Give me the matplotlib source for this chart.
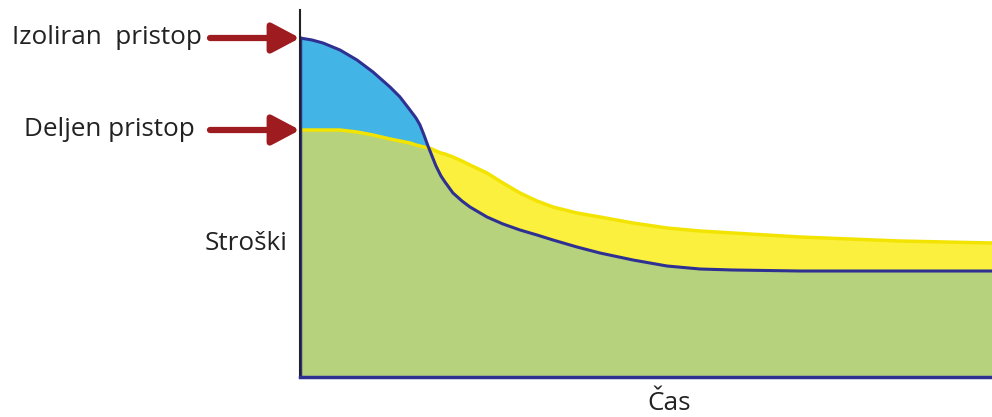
import numpy as np
import matplotlib
matplotlib.use('Agg')
import matplotlib.pyplot as plt

# values (time, cost)
time = [0, 12, 23, 40, 57, 73, 90, 100, 110, 116, 120, 124, 128, 132, 136, 141, 145, 153,
        162, 170, 187, 203, 220, 237, 253, 277, 300, 333, 367, 400, 433, 500, 600, 692]
isolated = [339, 337, 334, 327, 317, 305, 290, 280, 267, 259, 252, 242, 231, 221, 211,
            201, 195, 184, 176, 170, 160, 153, 147, 142, 137, 130, 124, 117, 111, 108,
            107, 106, 106, 106]
shared = [247, 247, 247, 247, 245, 242, 238, 236, 234, 232, 231, 230, 229, 228, 226,
          224, 223, 220, 216, 212, 204, 194, 184, 176, 170, 164, 160, 154, 149, 146,
          144, 140, 136, 134]

labels = ['Izoliran  pristop', 'Deljen pristop']
y_label = 'Stroški'
x_label = 'Čas'

blue = '#43b4e6'
green = '#b6d27c'
yellow = '#fbf03e'
navy = '#2e3192'
arrow_red = '#9e1b20'

plt.rcParams['font.family'] = ['Open Sans', 'DejaVu Sans']

fig = plt.figure(figsize=(9.92, 4.17), dpi=100)
ax = fig.add_axes([300 / 992, 40 / 417, 692 / 992, 367 / 417])

t = np.array(time)
iso = np.array(isolated)
sh = np.array(shared)

# fills
ax.fill_between(t, 0, np.minimum(iso, sh), color=green, lw=0)
ax.fill_between(t, sh, iso, where=iso >= sh, interpolate=True, color=blue, lw=0)
ax.fill_between(t, iso, sh, where=sh >= iso, interpolate=True, color=yellow, lw=0)

# curve outlines
ax.plot(t, sh, color='#f2e400', lw=2.5, solid_joinstyle='round')
ax.plot(t, iso, color=navy, lw=2.2, solid_joinstyle='round')
ax.plot([0, 0], [0, iso[0]], color=navy, lw=2.5)

ax.set_xlim(0, 692)
ax.set_ylim(0, 367)
ax.set_xticks([])
ax.set_yticks([])
for s in ['top', 'right']:
    ax.spines[s].set_visible(False)
ax.spines['left'].set_color('#222222')
ax.spines['left'].set_linewidth(1.5)
ax.spines['bottom'].set_color(navy)
ax.spines['bottom'].set_linewidth(2.5)

# labels with arrows
for lab, val, xr in zip(labels, [iso[0], sh[0]], [202, 195]):
    ax.annotate('', xy=(0, val), xytext=(210, 417 - (377 - val)),
                xycoords='data', textcoords='figure pixels',
                arrowprops=dict(arrowstyle='-|>,head_length=0.85,head_width=0.45',
                                mutation_scale=20, color=arrow_red, lw=4.5,
                                shrinkA=0, shrinkB=0),
                annotation_clip=False)
    fig.text(xr / 992, (417 - (377 - val)) / 417, lab, ha='right', va='center',
             fontsize=18.8, color='#222222')

fig.text(246 / 992, (417 - 244) / 417, y_label, ha='center', va='center',
         fontsize=18.8, color='#222222')
fig.text(669 / 992, (417 - 404) / 417, x_label, ha='center', va='center',
         fontsize=18.8, color='#222222')

fig.savefig('out.png', dpi=100)
